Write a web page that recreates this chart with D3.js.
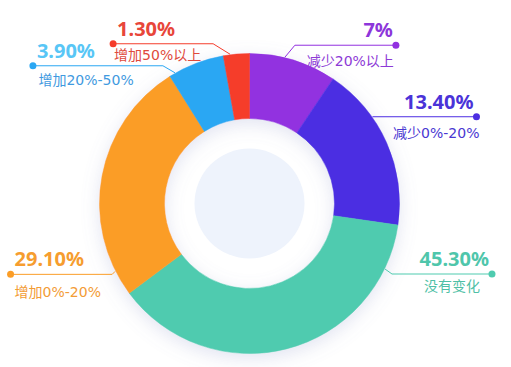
<!DOCTYPE html>
<html>
<head>
<meta charset="utf-8">
<script src="https://cdn.jsdelivr.net/npm/d3@7"></script>
<style>
  html, body { margin: 0; padding: 0; background: #fff; }
  svg { display: block; }
</style>
</head>
<body>
<div id="chart"></div>
<script>
// categories, shown percentages, and the slice shares as drawn in the picture
var categories = ["减少20%以上", "减少0%-20%", "没有变化", "增加0%-20%", "增加20%-50%", "增加50%以上"];
var percentLabels = ["7%", "13.40%", "45.30%", "29.10%", "3.90%", "1.30%"];
var sliceShares = [9.4, 17.9, 37.5, 26.3, 6.1, 2.8];

var sliceColors = ["#9230e0", "#4c2ee2", "#4fcbaf", "#fb9d27", "#2aa7f3", "#f53c2b"];
var textColors = ["#8d36da", "#4a33d8", "#4fc6ab", "#f69d2f", "#58c6f6", "#e8463a"];
var nameColors = ["#8d3ad6", "#4a37d2", "#4fbfa6", "#f39c35", "#3f9ae0", "#e04a3c"];

// leader line layout: anchor angle on ring, elbow offset, horizontal run, text tweaks
var labelLayout = [
  { angle: 13.6, ex: 10, ey: -12, run: 101, nameDx: 1, nameDy: 16 },
  { angle: 54.8, ex: 0, ey: 0, run: 104, nameDx: 6, nameDy: 16 },
  { angle: 115.8, ex: 7, ey: 5, run: 100, nameDx: -9, nameDy: 12 },
  { angle: 243.2, ex: -3, ey: 3, run: -101.6, nameDx: 0, nameDy: 17.5 },
  { angle: 330.3, ex: -12, ey: -7, run: -130, nameDx: 1.5, nameDy: 14.5 },
  { angle: 352.6, ex: -17, ey: -10.5, run: -100, nameDx: -3, nameDy: 11.5 }
];

var width = 511, height = 367;
var cx = 249.5, cy = 203.5;
var outerR = 150, innerR = 85, coreR = 55;

var svg = d3.select("#chart").append("svg")
  .attr("width", width)
  .attr("height", height);

var defs = svg.append("defs");
var shadow = defs.append("filter")
  .attr("id", "ringShadow")
  .attr("x", "-30%").attr("y", "-30%")
  .attr("width", "160%").attr("height", "160%");
shadow.append("feDropShadow")
  .attr("dx", 0).attr("dy", 5)
  .attr("stdDeviation", 9)
  .attr("flood-color", "#7d86c0")
  .attr("flood-opacity", 0.22);

var g = svg.append("g").attr("transform", "translate(" + cx + "," + cy + ")");

var pie = d3.pie().sort(null).value(function (d) { return d; });
var arcs = pie(sliceShares);

var arc = d3.arc().innerRadius(innerR).outerRadius(outerR);

var ring = g.append("g").attr("filter", "url(#ringShadow)");
ring.selectAll("path")
  .data(arcs)
  .enter()
  .append("path")
  .attr("d", arc)
  .attr("fill", function (d, i) { return sliceColors[i]; })
  .attr("stroke", function (d, i) { return sliceColors[i]; })
  .attr("stroke-width", 0.5);

// inner core
g.append("circle")
  .attr("r", coreR)
  .attr("fill", "#eef3fc");

// leader lines and labels
var toRad = Math.PI / 180;
var labels = svg.append("g");

labelLayout.forEach(function (L, i) {
  var a = L.angle * toRad;
  var ax = cx + (outerR + 0.5) * Math.sin(a);
  var ay = cy - (outerR + 0.5) * Math.cos(a);
  var bx = ax + L.ex, by = ay + L.ey;
  var dx = bx + L.run;
  var right = L.run > 0;

  labels.append("polyline")
    .attr("points", [[ax, ay], [bx, by], [dx, by]].map(function (p) { return p.join(","); }).join(" "))
    .attr("fill", "none")
    .attr("stroke", sliceColors[i])
    .attr("stroke-width", 1);

  labels.append("circle")
    .attr("cx", dx)
    .attr("cy", by)
    .attr("r", 3.5)
    .attr("fill", sliceColors[i]);

  var tx = right ? dx - 3 : dx + 4;
  var anchor = right ? "end" : "start";

  labels.append("text")
    .attr("x", tx)
    .attr("y", by - 8)
    .attr("text-anchor", anchor)
    .attr("font-family", "'Noto Sans', 'Noto Sans CJK SC', sans-serif")
    .attr("font-weight", 700)
    .attr("font-size", "20px")
    .attr("fill", textColors[i])
    .text(percentLabels[i]);

  labels.append("text")
    .attr("x", tx + L.nameDx)
    .attr("y", by + L.nameDy)
    .attr("dy", "0.36em")
    .attr("text-anchor", anchor)
    .attr("font-family", "'DejaVu Sans', 'Noto Sans CJK SC', sans-serif")
    .attr("font-size", "14px")
    .attr("fill", nameColors[i])
    .text(categories[i]);
});
</script>
</body>
</html>
